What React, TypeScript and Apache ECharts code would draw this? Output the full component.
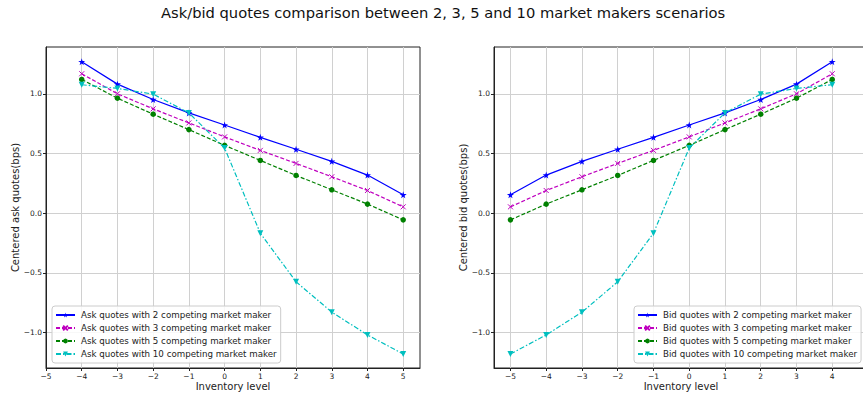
import React, { useEffect, useRef } from "react";
import * as echarts from "echarts";

const titleText = "Ask/bid quotes comparison between 2, 3, 5 and 10 market makers scenarios";
const askX = [-4, -3, -2, -1, 0, 1, 2, 3, 4, 5];
const bidX = [-5, -4, -3, -2, -1, 0, 1, 2, 3, 4];
const askXTicks = [-5, -4, -3, -2, -1, 0, 1, 2, 3, 4, 5];
const bidXTicks = [-5, -4, -3, -2, -1, 0, 1, 2, 3, 4];
const yTicks = [-1.0, -0.5, 0.0, 0.5, 1.0];

const ask2 = [1.269, 1.081, 0.952, 0.84, 0.739, 0.635, 0.535, 0.434, 0.319, 0.154];
const ask3 = [1.168, 1.0, 0.874, 0.756, 0.639, 0.526, 0.417, 0.305, 0.19, 0.053];
const ask5 = [1.12, 0.963, 0.829, 0.7, 0.568, 0.442, 0.316, 0.196, 0.076, -0.056];
const ask10 = [1.076, 1.045, 0.997, 0.84, 0.545, -0.168, -0.575, -0.829, -1.02, -1.18];

const bid2 = [0.154, 0.319, 0.434, 0.535, 0.635, 0.739, 0.84, 0.952, 1.081, 1.269];
const bid3 = [0.053, 0.19, 0.305, 0.417, 0.526, 0.639, 0.756, 0.874, 1.0, 1.168];
const bid5 = [-0.056, 0.076, 0.196, 0.316, 0.442, 0.568, 0.7, 0.829, 0.963, 1.12];
const bid10 = [-1.18, -1.02, -0.829, -0.575, -0.168, 0.545, 0.84, 0.997, 1.045, 1.076];

const mmCounts = [2, 3, 5, 10];

const FONT = "DejaVu Sans";
const INK = "#222";
const STAR = "path://M50,0 L61,35 L98,35 L68,57 L79,91 L50,70 L21,91 L32,57 L2,35 L39,35 Z";
const CROSS = "path://M0,0 L10,10 M10,0 L0,10";

const styles = [
  { color: "#0000ff", type: "solid" as any, symbol: STAR, size: 7, rotate: 0, bw: 0 },
  { color: "#bf00bf", type: [4, 2] as any, symbol: CROSS, size: 5, rotate: 0, bw: 1 },
  { color: "#008000", type: [4, 2] as any, symbol: "circle", size: 5.5, rotate: 0, bw: 0 },
  { color: "#00bfbf", type: [5, 2, 1.5, 2] as any, symbol: "triangle", size: 6, rotate: 180, bw: 0 },
];

function fmt(v: number, dec: number) {
  const s = Math.abs(v).toFixed(dec);
  return (v < 0 && Math.abs(v) > 1e-9 ? "\u2212" : "") + s;
}

function makeSeries(prefix: string, xs: number[], sets: number[][], axisIndex: number) {
  return sets.map((vals, i) => {
    const st = styles[i];
    return {
      name: `${prefix} quotes with ${mmCounts[i]} competing market maker`,
      type: "line",
      xAxisIndex: axisIndex,
      yAxisIndex: axisIndex,
      data: xs.map((x, j) => [x, vals[j]]),
      symbol: st.symbol,
      symbolSize: st.size,
      symbolRotate: st.rotate,
      showSymbol: true,
      lineStyle: { color: st.color, width: 1.2, type: st.type },
      itemStyle: { color: st.color, borderColor: st.color, borderWidth: st.bw },
      emphasis: { disabled: true },
      z: 3 + i,
    };
  });
}

function xAxisCfg(gridIndex: number, min: number, max: number, ticks: number[]) {
  return {
    type: "value",
    gridIndex,
    min,
    max,
    name: "Inventory level",
    nameLocation: "middle",
    nameGap: 13,
    nameMoveOverlap: false,
    nameTextStyle: { fontFamily: FONT, fontSize: 10, color: INK },
    axisLine: { show: true, onZero: false, lineStyle: { color: INK, width: 1 } },
    axisTick: { show: true, length: 3, lineStyle: { color: INK }, customValues: ticks },
    axisLabel: {
      fontFamily: FONT,
      fontSize: 7.5,
      color: INK,
      margin: 4,
      customValues: ticks,
      formatter: (v: number) => fmt(v, 0),
    },
    splitLine: { show: true, lineStyle: { color: "#d0d0d0", width: 1 } },
  };
}

function yAxisCfg(gridIndex: number, name: string) {
  return {
    type: "value",
    gridIndex,
    min: -1.297,
    max: 1.392,
    name,
    nameLocation: "middle",
    nameGap: 26,
    nameMoveOverlap: false,
    nameTextStyle: { fontFamily: FONT, fontSize: 10, color: INK },
    axisLine: { show: true, onZero: false, lineStyle: { color: INK, width: 1 } },
    axisTick: { show: true, length: 3, lineStyle: { color: INK }, customValues: yTicks },
    axisLabel: {
      fontFamily: FONT,
      fontSize: 7.5,
      color: INK,
      margin: 4,
      customValues: yTicks,
      formatter: (v: number) => fmt(v, 1),
    },
    splitLine: { show: true, lineStyle: { color: "#d0d0d0", width: 1 } },
  };
}

function legendCfg(prefix: string, pos: any) {
  return {
    ...pos,
    orient: "vertical",
    data: mmCounts.map((n) => `${prefix} quotes with ${n} competing market maker`),
    itemWidth: 19,
    itemHeight: 6,
    itemGap: 3,
    padding: [4, 4, 4, 3],
    backgroundColor: "rgba(255,255,255,0.85)",
    borderColor: "#cccccc",
    borderWidth: 1,
    borderRadius: 3,
    selectedMode: false,
    textStyle: { fontFamily: FONT, fontSize: 8.7, color: INK, lineHeight: 10, padding: [0, 0, 0, 1] },
  };
}

export default function App() {
  const ref = useRef<HTMLDivElement>(null);
  useEffect(() => {
    if (!ref.current) return;
    const chart = echarts.init(ref.current, undefined, { renderer: "svg" });
    chart.setOption({
      animation: false,
      backgroundColor: "#ffffff",
      title: {
        text: titleText,
        left: 161,
        top: 4,
        padding: 0,
        textStyle: { fontFamily: FONT, fontSize: 14.7, fontWeight: "normal", color: "#111", lineHeight: 17 },
      },
      grid: [
        { left: 46, right: 443, top: 47, bottom: 31, show: true, borderColor: INK, borderWidth: 1, containLabel: false, outerBoundsMode: "none" },
        { left: 494, right: -5, top: 47, bottom: 31, show: true, borderColor: INK, borderWidth: 1, containLabel: false, outerBoundsMode: "none" },
      ],
      xAxis: [xAxisCfg(0, -5, 5.47, askXTicks), xAxisCfg(1, -5.46, 5.0, bidXTicks)],
      yAxis: [yAxisCfg(0, "Centered ask quotes(bps)"), yAxisCfg(1, "Centered bid quotes(bps)")],
      legend: [
        legendCfg("Ask", { left: 52, bottom: 36 }),
        legendCfg("Bid", { left: 634, bottom: 36 }),
      ],
      series: [
        ...makeSeries("Ask", askX, [ask2, ask3, ask5, ask10], 0),
        ...makeSeries("Bid", bidX, [bid2, bid3, bid5, bid10], 1),
      ],
    });
    return () => chart.dispose();
  }, []);
  return <div ref={ref} style={{ position: "absolute", left: 0, top: 0, width: 863, height: 399 }} />;
}
